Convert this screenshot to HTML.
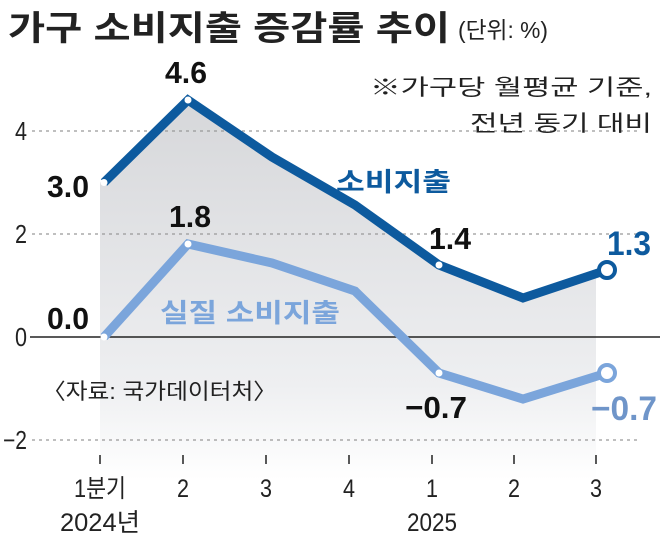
<!DOCTYPE html>
<html><head><meta charset="utf-8"><style>
body{margin:0;background:#fff}
svg text{font-family:"Liberation Sans","Noto Sans CJK KR",sans-serif}
</style></head><body>
<svg width="660" height="539" viewBox="0 0 660 539" xmlns="http://www.w3.org/2000/svg">
<defs>
<linearGradient id="g" x1="0" y1="0" x2="0" y2="1">
<stop offset="0" stop-color="#d6d7da"/><stop offset="0.75" stop-color="#eeeff1"/><stop offset="1" stop-color="#ffffff"/>
</linearGradient>
</defs>
<text x="8" y="40" font-size="34" font-weight="bold" fill="#222" textLength="442" lengthAdjust="spacingAndGlyphs" font-family="'Noto Sans CJK KR',sans-serif">가구 소비지출 증감률 추이</text>
<text x="458" y="38" font-size="23" fill="#222" textLength="90" lengthAdjust="spacingAndGlyphs" font-family="'Noto Sans CJK KR',sans-serif">(단위: %)</text>
<polygon points="100,182.5 188,100 272,157 355,205 439,265 523,298 596,274 596,480 100,480" fill="url(#g)"/>
<g stroke="#999" stroke-dasharray="3,4" stroke-width="1.3">
<line x1="32" y1="131" x2="640" y2="131"/>
<line x1="32" y1="234" x2="640" y2="234"/>
<line x1="32" y1="440" x2="640" y2="440"/>
</g>
<line x1="30" y1="337" x2="660" y2="337" stroke="#222" stroke-width="1.5"/>
<g stroke="#222" stroke-width="1.5">
<line x1="100" y1="455" x2="100" y2="464"/><line x1="183" y1="455" x2="183" y2="464"/>
<line x1="266" y1="455" x2="266" y2="464"/><line x1="349" y1="455" x2="349" y2="464"/>
<line x1="432" y1="455" x2="432" y2="464"/><line x1="514" y1="455" x2="514" y2="464"/>
<line x1="596" y1="455" x2="596" y2="464"/>
</g>
<g font-size="26" fill="#222" text-anchor="end">
<text x="27" y="140" textLength="12" lengthAdjust="spacingAndGlyphs">4</text>
<text x="27" y="243" textLength="12" lengthAdjust="spacingAndGlyphs">2</text>
<text x="27" y="346" textLength="12" lengthAdjust="spacingAndGlyphs">0</text>
<text x="27" y="449" textLength="24" lengthAdjust="spacingAndGlyphs">−2</text>
</g>
<g font-size="25" fill="#222" text-anchor="middle">
<text x="100" y="497" textLength="52" lengthAdjust="spacingAndGlyphs">1분기</text>
<text x="183" y="497" textLength="12" lengthAdjust="spacingAndGlyphs">2</text>
<text x="266" y="497" textLength="12" lengthAdjust="spacingAndGlyphs">3</text>
<text x="349" y="497" textLength="12" lengthAdjust="spacingAndGlyphs">4</text>
<text x="432" y="497" textLength="12" lengthAdjust="spacingAndGlyphs">1</text>
<text x="514" y="497" textLength="12" lengthAdjust="spacingAndGlyphs">2</text>
<text x="596" y="497" textLength="12" lengthAdjust="spacingAndGlyphs">3</text>
<text x="100" y="531" textLength="80" lengthAdjust="spacingAndGlyphs">2024년</text>
<text x="432" y="531" textLength="50" lengthAdjust="spacingAndGlyphs">2025</text>
</g>
<polyline points="104,337 188,244 272,263 355,291 439,373 523,399 607,373" fill="none" stroke="#7ba5db" stroke-width="9" stroke-linejoin="miter"/>
<polyline points="104,182.5 188,100 272,157 355,205 439,265 523,298 607,270" fill="none" stroke="#0d5a9e" stroke-width="9" stroke-linejoin="miter"/>
<g fill="#fff">
<circle cx="104" cy="182.5" r="3.5"/><circle cx="188" cy="100" r="3.5"/><circle cx="439" cy="265" r="3.5"/>
<circle cx="104" cy="337" r="3.5"/><circle cx="188" cy="244" r="3.5"/><circle cx="439" cy="373" r="3.5"/>
<circle cx="607" cy="270" r="8" stroke="#0d5a9e" stroke-width="4"/>
<circle cx="607" cy="373" r="8" stroke="#7ba5db" stroke-width="4"/>
</g>
<g font-size="31" font-weight="bold" fill="#111" text-anchor="middle">
<text x="68" y="197" textLength="42" lengthAdjust="spacingAndGlyphs">3.0</text>
<text x="186" y="83" textLength="42" lengthAdjust="spacingAndGlyphs">4.6</text>
<text x="190" y="227" textLength="42" lengthAdjust="spacingAndGlyphs">1.8</text>
<text x="68" y="329" textLength="42" lengthAdjust="spacingAndGlyphs">0.0</text>
<text x="450" y="249" textLength="42" lengthAdjust="spacingAndGlyphs">1.4</text>
<text x="436" y="418" textLength="62" lengthAdjust="spacingAndGlyphs">−0.7</text>
</g>
<text x="629" y="255" font-size="34" font-weight="bold" fill="#0d5a9e" text-anchor="middle" textLength="44" lengthAdjust="spacingAndGlyphs">1.3</text>
<text x="624" y="420" font-size="34" font-weight="bold" fill="#6f95c9" text-anchor="middle" textLength="66" lengthAdjust="spacingAndGlyphs">−0.7</text>
<text x="336" y="191" font-size="26" font-weight="bold" fill="#0d5a9e" textLength="115" lengthAdjust="spacingAndGlyphs" font-family="'Noto Sans CJK KR',sans-serif">소비지출</text>
<text x="160" y="322" font-size="26" font-weight="bold" fill="#7ba5db" textLength="180" lengthAdjust="spacingAndGlyphs" font-family="'Noto Sans CJK KR',sans-serif">실질 소비지출</text>
<text x="652" y="95" font-size="22" fill="#222" text-anchor="end" textLength="282" lengthAdjust="spacingAndGlyphs" font-family="'Noto Sans CJK KR',sans-serif">※가구당 월평균 기준,</text>
<text x="652" y="131" font-size="22" fill="#222" text-anchor="end" textLength="182" lengthAdjust="spacingAndGlyphs" font-family="'Noto Sans CJK KR',sans-serif">전년 동기 대비</text>
<text x="42" y="399" font-size="22" fill="#222" textLength="235" lengthAdjust="spacingAndGlyphs" font-family="'Noto Sans CJK KR',sans-serif">〈자료: 국가데이터처〉</text>
</svg>
</body></html>
